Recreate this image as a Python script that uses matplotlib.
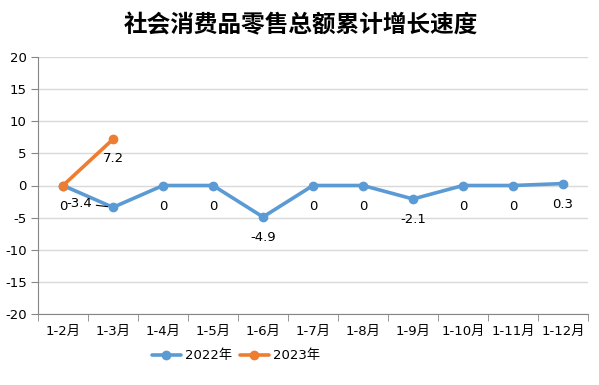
import matplotlib.pyplot as plt
import numpy as np

plt.rcParams["font.family"] = ["DejaVu Sans", "Noto Sans CJK SC"]

categories = ["1-2月", "1-3月", "1-4月", "1-5月", "1-6月", "1-7月",
              "1-8月", "1-9月", "1-10月", "1-11月", "1-12月"]
values_2022 = [0, -3.4, 0, 0, -4.9, 0, 0, -2.1, 0, 0, 0.3]
values_2023 = [0, 7.2]
labels_2022 = ["0", "-3.4", "0", "0", "-4.9", "0", "0", "-2.1", "0", "0", "0.3"]
labels_2023 = ["0", "7.2"]
y_ticks = [-20, -15, -10, -5, 0, 5, 10, 15, 20]

BLUE = "#5B9BD5"
ORANGE = "#ED7D31"
GRID = "#D9D9D9"
AXIS = "#868686"

fig = plt.figure(figsize=(5.99, 3.85), dpi=100)
ax = fig.add_axes([38 / 599, 1 - 314 / 385, 550 / 599, 257 / 385])

x = np.arange(len(categories))
ax.plot(x, values_2022, color=BLUE, lw=2.6, marker="o", ms=6,
        label="2022年", zorder=3, solid_capstyle="round")
ax.plot(x[:len(values_2023)], values_2023, color=ORANGE, lw=2.6, marker="o",
        ms=6, label="2023年", zorder=4, solid_capstyle="round")

# data labels
for i, (v, t) in enumerate(zip(values_2022, labels_2022)):
    if i == 1:
        ax.annotate(t, (i, v), xytext=(-15, 3), textcoords="offset points",
                    ha="right", va="center", fontsize=9.5,
                    arrowprops=dict(arrowstyle="-", color="black", lw=0.8,
                                    shrinkA=1, shrinkB=4))
        continue
    ax.annotate(t, (i, v), xytext=(0, -15), textcoords="offset points",
                ha="center", va="center", fontsize=9.5)
for i, (v, t) in enumerate(zip(values_2023, labels_2023)):
    if i == 0:
        continue
    ax.annotate(t, (i, v), xytext=(0, -14), textcoords="offset points",
                ha="center", va="center", fontsize=9.5)

ax.set_xlim(-0.5, len(categories) - 0.5)
ax.set_ylim(-20, 20)
ax.set_yticks(y_ticks)
ax.set_yticklabels([str(v) for v in y_ticks], fontsize=9.5)
ax.set_xticks(x)
ax.set_xticklabels(categories, fontsize=9.5)
ax.set_xticks(np.arange(len(categories) + 1) - 0.5, minor=True)
ax.tick_params(axis="x", which="major", length=0, pad=8)
ax.tick_params(axis="x", which="minor", length=5, color=AXIS)
ax.tick_params(axis="y", length=5, color=AXIS, pad=3)

ax.grid(axis="y", color=GRID, lw=1)
ax.set_axisbelow(True)
for side in ["top", "right"]:
    ax.spines[side].set_visible(False)
ax.spines["left"].set_color(AXIS)
ax.spines["bottom"].set_color(AXIS)

fig.text(301 / 599, 1 - 25 / 385, "社会消费品零售总额累计增长速度",
         ha="center", va="center", fontsize=17, fontweight="heavy",
         family=["Noto Sans CJK SC"])

fig.legend(loc="center", bbox_to_anchor=(236 / 599, 1 - 356 / 385), ncol=2,
           frameon=False, handlelength=2.2, columnspacing=0.6,
           handletextpad=0.3, prop={"family": ["DejaVu Sans", "Noto Sans CJK SC"], "size": 9.5})

fig.savefig("out.png", dpi=100)
